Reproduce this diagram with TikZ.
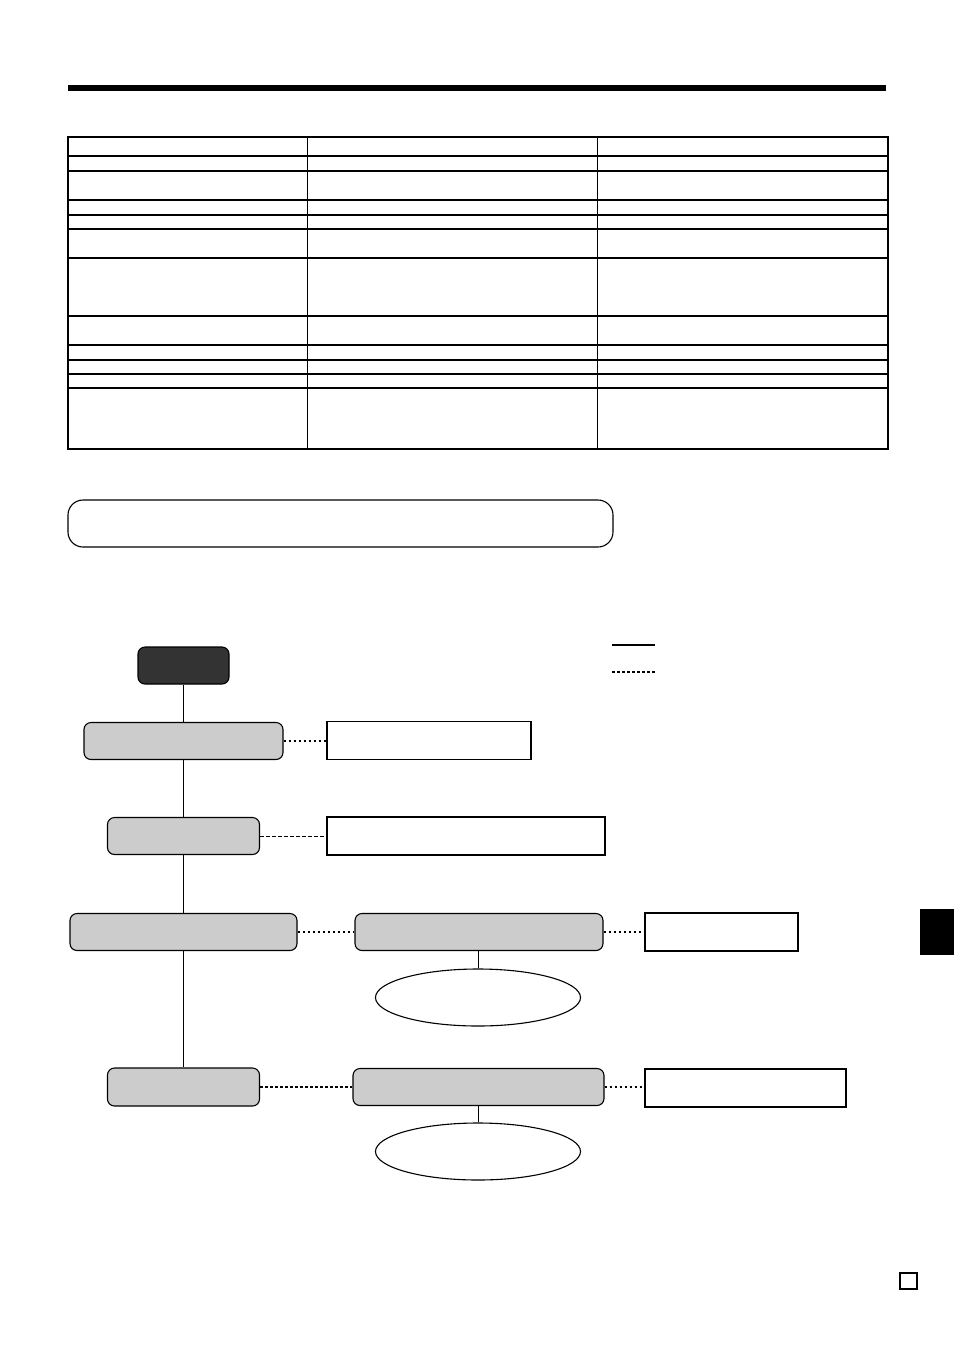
\documentclass[tikz,border=0pt]{standalone}
\usepackage{xcolor}
\usepackage{tikz}
\usetikzlibrary{shapes.geometric}
\definecolor{keygray}{HTML}{CCCCCC}
\definecolor{startgray}{HTML}{333333}
\tikzset{
  keybox/.style={draw, rounded corners=7pt, fill=keygray, line width=1.1pt, inner sep=0pt},
  startbox/.style={keybox, fill=startgray},
  notebox/.style={draw, line width=1.2pt, inner sep=0pt},
  resultoval/.style={draw, ellipse, line width=1.1pt, inner sep=0pt},
  flow/.style={line width=0.8pt},
  option/.style={line width=2pt, dash pattern=on 2.6pt off 2.4pt},
  optionthin/.style={line width=1pt, dash pattern=on 3.5pt off 2.5pt},
}

\begin{document}
\begin{tikzpicture}[x=1pt, y=-1pt]
\useasboundingbox (0,0) rectangle (954,1350);
% heading bar
\fill (68,85) rectangle (886,91);
% table
\draw [line width=1.1pt] (68,137) rectangle (888,449);
\draw [line width=2pt] (68,137) -- (888,137);
\foreach \y in {156,171,200,215,229,258,316,345,360,374,388}
  \draw [line width=1.1pt] (68,\y) -- (888,\y);
\foreach \x in {307,597}
  \draw [line width=0.8pt] (\x,137) -- (\x,449);
% title frame
\draw [line width=1.1pt, rounded corners=15pt] (68,500) rectangle (613,547);
% legend
\draw [line width=1.6pt] (612,645) -- (655,645);
\draw [option] (612,672) -- (655,672);
% flow chart
\node [startbox, minimum width=91pt, minimum height=37pt] (start) at (183.5,665.5) {};
\node [keybox, minimum width=199pt, minimum height=37pt] (stepa) at (183.5,741) {};
\node [notebox, minimum width=204pt, minimum height=38pt] (notea) at (429,740.5) {};
\node [keybox, minimum width=152pt, minimum height=37pt] (stepb) at (183.5,836) {};
\node [notebox, minimum width=278pt, minimum height=38pt] (noteb) at (466,836) {};
\node [keybox, minimum width=227pt, minimum height=37pt] (stepc) at (183.5,932) {};
\node [keybox, minimum width=248pt, minimum height=37pt] (stepcc) at (479,932) {};
\node [notebox, minimum width=153pt, minimum height=38pt] (notec) at (721.5,932) {};
\node [resultoval, minimum width=205pt, minimum height=57pt] (resc) at (478,997.5) {};
\node [keybox, minimum width=152pt, minimum height=38pt] (stepd) at (183.5,1087) {};
\node [keybox, minimum width=251pt, minimum height=37pt] (stepdd) at (478.5,1087) {};
\node [notebox, minimum width=201pt, minimum height=38pt] (noted) at (745.5,1088) {};
\node [resultoval, minimum width=205pt, minimum height=57pt] (resd) at (478,1151.5) {};
% main line
\draw [flow] (start) -- (stepa);
\draw [flow] (stepa) -- (stepb);
\draw [flow] (stepb) -- (stepc);
\draw [flow] (stepc) -- (stepd);
\draw [flow] (stepcc.south -| resc.north) -- (resc);
\draw [flow] (stepdd.south -| resd.north) -- (resd);
% options
\draw [option] (stepa.east) -- (stepa.east -| notea.west);
\draw [optionthin] (stepb.east) -- (stepb.east -| noteb.west);
\draw [option] (stepc.east) -- (stepc.east -| stepcc.west);
\draw [option] (stepcc.east) -- (stepcc.east -| notec.west);
\draw [option] (stepd.east) -- (stepd.east -| stepdd.west);
\draw [option] (stepdd.east) -- (stepdd.east -| noted.west);
% page tab and page box
\fill (920,909) rectangle (954,955);
\draw [line width=1.1pt] (900,1273) rectangle (917,1289);
\end{tikzpicture}
\end{document}
